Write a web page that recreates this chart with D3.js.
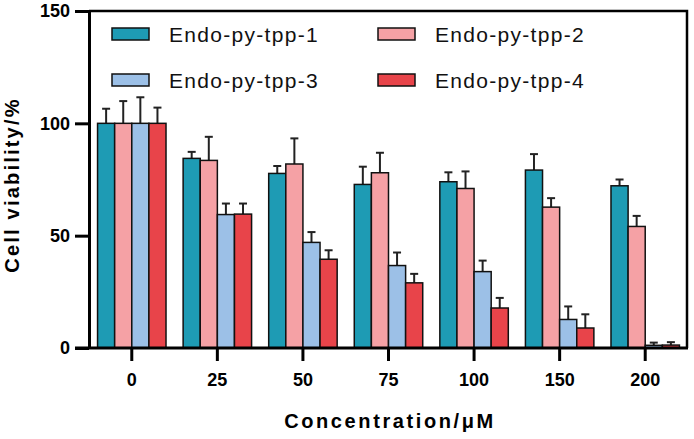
<!DOCTYPE html>
<html>
<head>
<meta charset="utf-8">
<script src="https://cdn.jsdelivr.net/npm/d3@7"></script>
<style>
  body { margin: 0; background: #fff; }
  svg { font-family: Arial, "Liberation Sans", sans-serif; }
  .axis path, .axis line { stroke: #000; stroke-width: 3; }
  .axis text { font-size: 18px; font-weight: bold; fill: #000; }
</style>
</head>
<body>
<div id="chart"></div>
<script>
// concentrations (uM)
const concentrations = ["0", "25", "50", "75", "100", "150", "200"];
const seriesNames = ["Endo-py-tpp-1", "Endo-py-tpp-2", "Endo-py-tpp-3", "Endo-py-tpp-4"];
const seriesColors = ["#1e9bb4", "#f5a1a5", "#9cc0e7", "#e8444a"];

// mean cell viability (%)
const tpp1 = [100, 84.4, 77.7, 72.8, 74.0, 79.2, 72.2];
const tpp2 = [100, 83.5, 81.9, 78.0, 71.0, 62.7, 54.1];
const tpp3 = [100, 59.4, 47.0, 36.7, 34.0, 12.7, 1.2];
const tpp4 = [100, 59.6, 39.5, 29.0, 17.8, 8.9, 1.3];
// error (SD, upper only)
const tpp1Err = [6.5, 2.9, 3.3, 7.9, 4.2, 7.1, 2.8];
const tpp2Err = [9.9, 10.5, 11.4, 8.9, 7.6, 4.0, 4.7];
const tpp3Err = [11.6, 4.9, 4.6, 5.8, 4.9, 5.8, 1.2];
const tpp4Err = [7.0, 4.7, 4.0, 4.0, 4.5, 6.1, 1.3];

const yTicks = [0, 50, 100, 150];

const values = [tpp1, tpp2, tpp3, tpp4];
const errors = [tpp1Err, tpp2Err, tpp3Err, tpp4Err];

const width = 694, height = 439;
const plot = { left: 89, right: 687, top: 11, bottom: 348 };

const svg = d3.select("#chart").append("svg")
  .attr("width", width)
  .attr("height", height);

const x0 = d3.scaleBand().domain(concentrations).range([plot.left, plot.right + 1]);
const x1 = d3.scaleBand().domain(seriesNames).range([0, x0.bandwidth()]).paddingOuter(0.5);
const y = d3.scaleLinear().domain([0, 150]).range([plot.bottom, plot.top]);

// flat rows for drawing
const rows = [];
concentrations.forEach((c, i) => {
  seriesNames.forEach((s, j) => {
    rows.push({ c: c, s: s, j: j, v: values[j][i], e: errors[j][i] });
  });
});

// error bars (upper) drawn first, bars over them
const err = svg.append("g").selectAll("g").data(rows).join("g")
  .attr("transform", d => `translate(${x0(d.c) + x1(d.s) + x1.bandwidth() / 2},0)`);
err.append("line")
  .attr("y1", d => y(d.v)).attr("y2", d => y(d.v + d.e))
  .attr("stroke", "#222").attr("stroke-width", 2);
err.append("line")
  .attr("x1", -4).attr("x2", 4)
  .attr("y1", d => y(d.v + d.e)).attr("y2", d => y(d.v + d.e))
  .attr("stroke", "#222").attr("stroke-width", 2);

svg.append("g").selectAll("rect").data(rows).join("rect")
  .attr("x", d => x0(d.c) + x1(d.s))
  .attr("y", d => y(d.v))
  .attr("width", x1.bandwidth())
  .attr("height", d => y(0) - y(d.v))
  .attr("fill", d => seriesColors[d.j])
  .attr("stroke", "#111")
  .attr("stroke-width", 1.5);

// frame (top and right)
svg.append("path")
  .attr("d", `M${plot.left},${plot.top}H${plot.right}V${plot.bottom}`)
  .attr("fill", "none").attr("stroke", "#000").attr("stroke-width", 2.5);

// axes
svg.append("g").attr("class", "axis")
  .attr("transform", `translate(${plot.left},0)`)
  .call(d3.axisLeft(y).tickValues(yTicks).tickSize(14).tickPadding(5).tickSizeOuter(0));

const xAxis = svg.append("g").attr("class", "axis")
  .attr("transform", `translate(0,${plot.bottom})`)
  .call(d3.axisBottom(x0).tickSize(13).tickPadding(12).tickSizeOuter(0));
xAxis.select(".domain").attr("d", `M${plot.left - 14},0H${plot.right + 1}`);

// axis titles
svg.append("text")
  .attr("x", 390).attr("y", 428)
  .attr("text-anchor", "middle")
  .style("font-size", "20px").style("font-weight", "bold").style("letter-spacing", "2.6px")
  .text("Concentration/μM");

svg.append("text")
  .attr("transform", "translate(19,185) rotate(-90)")
  .attr("text-anchor", "middle")
  .style("font-size", "20px").style("font-weight", "bold").style("letter-spacing", "2.2px")
  .text("Cell viability/%");

// legend, two columns
const legendPos = [[112, 28], [378, 28], [112, 74], [378, 74]];
const legend = svg.append("g").selectAll("g").data(seriesNames).join("g")
  .attr("transform", (d, i) => `translate(${legendPos[i][0]},${legendPos[i][1]})`);
legend.append("rect")
  .attr("width", 37).attr("height", 12)
  .attr("fill", (d, i) => seriesColors[i])
  .attr("stroke", "#111").attr("stroke-width", 1.5);
legend.append("text")
  .attr("x", 57).attr("y", 14)
  .style("font-size", "21px").style("letter-spacing", "1.3px")
  .attr("fill", "#111")
  .text(d => d);
</script>
</body>
</html>
